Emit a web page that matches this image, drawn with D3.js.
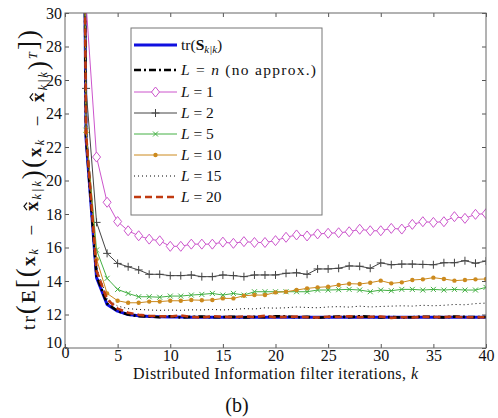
<!DOCTYPE html>
<html>
<head>
<meta charset="utf-8">
<script src="https://cdn.jsdelivr.net/npm/d3@7"></script>
<style>
	body { margin: 0; background: #fff; }
	svg text { font-family: "Liberation Serif", "DejaVu Serif", serif; fill: #111; }
</style>
</head>
<body>
<svg id="chart" width="498" height="418"></svg>
<script>
// iterations k = 1..40
var iters = d3.range(1, 41);

// series values (k = 1 is far above the axis, so it is clipped)
var trS  = [100, 22.5, 14.2, 12.6, 12.2, 12.0, 11.92, 11.88, 11.86, 11.85, 11.85, 11.84, 11.84, 11.84, 11.84, 11.84, 11.83, 11.83, 11.83, 11.83,
	11.83, 11.83, 11.83, 11.83, 11.83, 11.83, 11.83, 11.83, 11.83, 11.83, 11.83, 11.83, 11.83, 11.83, 11.83, 11.83, 11.83, 11.83, 11.83, 11.83];
var Ln   = [100, 22.6, 14.3, 12.65, 12.2, 12.0, 11.9, 11.88, 11.84, 11.9, 11.82, 11.86, 11.88, 11.83, 11.85, 11.87, 11.82, 11.86, 11.84, 11.89,
	11.9, 11.83, 11.86, 11.8, 11.85, 11.88, 11.84, 11.9, 11.86, 11.83, 11.85, 11.82, 11.84, 11.87, 11.85, 11.83, 11.88, 11.86, 11.84, 11.85];
var L1   = [100, 30.6, 21.4, 18.7, 17.55, 17.0, 16.7, 16.5, 16.4, 16.07, 16.07, 16.2, 16.2, 16.2, 16.32, 16.25, 16.35, 16.3, 16.3, 16.41,
	16.61, 16.75, 16.69, 16.81, 16.85, 16.88, 16.94, 17.09, 17.0, 17.0, 17.14, 17.1, 17.38, 17.54, 17.5, 17.54, 17.84, 17.74, 17.98, 18.02];
var L2   = [110, 25.5, 17.5, 15.65, 15.05, 14.85, 14.66, 14.4, 14.4, 14.32, 14.32, 14.36, 14.26, 14.26, 14.36, 14.32, 14.26, 14.36, 14.36, 14.36,
	14.46, 14.49, 14.4, 14.72, 14.72, 14.76, 14.9, 14.88, 14.76, 15.08, 14.97, 15.01, 15.01, 14.99, 14.97, 15.09, 15.09, 15.21, 15.06, 15.19];
var L5   = [100, 23.0, 15.85, 14.16, 13.5, 13.26, 13.06, 13.06, 13.03, 13.1, 13.1, 13.16, 13.2, 13.26, 13.16, 13.26, 13.16, 13.36, 13.36, 13.36,
	13.36, 13.36, 13.36, 13.46, 13.46, 13.48, 13.5, 13.46, 13.36, 13.46, 13.42, 13.5, 13.5, 13.46, 13.5, 13.46, 13.5, 13.46, 13.46, 13.62];
var L10  = [100, 22.9, 15.3, 13.26, 12.82, 12.7, 12.7, 12.77, 12.77, 12.82, 12.82, 12.87, 12.85, 12.87, 12.96, 12.96, 13.12, 13.16, 13.16, 13.32,
	13.36, 13.46, 13.56, 13.62, 13.66, 13.76, 13.84, 13.82, 13.9, 14.02, 13.86, 13.92, 14.06, 14.1, 14.2, 14.12, 14.02, 14.06, 14.1, 14.12];
var L15  = [100, 22.7, 14.8, 12.95, 12.5, 12.35, 12.3, 12.27, 12.25, 12.27, 12.25, 12.28, 12.27, 12.3, 12.27, 12.3, 12.35, 12.33, 12.4, 12.38,
	12.4, 12.45, 12.42, 12.4, 12.45, 12.47, 12.44, 12.5, 12.45, 12.48, 12.5, 12.52, 12.5, 12.55, 12.52, 12.55, 12.6, 12.58, 12.65, 12.68];
var L20  = [100, 22.8, 14.6, 12.9, 12.35, 12.1, 11.98, 11.92, 11.9, 11.88, 11.95, 11.85, 11.82, 11.9, 11.86, 11.84, 11.88, 11.85, 11.92, 11.83,
	11.86, 11.88, 11.84, 11.82, 11.87, 11.85, 11.9, 11.84, 11.86, 11.88, 11.8, 11.84, 11.82, 11.86, 11.85, 11.84, 11.87, 11.83, 11.84, 11.83];

var xTicks = [0, 5, 10, 15, 20, 25, 30, 35, 40];
var yTicks = [10, 12, 14, 16, 18, 20, 22, 24, 26, 28, 30];

var series = [
	{ key: 'trS', values: trS, color: '#1010e0', width: 3, dash: null, marker: null },
	{ key: 'Ln', values: Ln, color: '#000', width: 2.6, dash: '7,3,2,3', marker: null },
	{ key: 'L1', values: L1, color: '#cc55cc', width: 1, dash: null, marker: 'diamond' },
	{ key: 'L2', values: L2, color: '#444', width: 1, dash: null, marker: 'plus' },
	{ key: 'L5', values: L5, color: '#44b044', width: 1, dash: null, marker: 'cross' },
	{ key: 'L10', values: L10, color: '#cc8a1e', width: 1, dash: null, marker: 'dot' },
	{ key: 'L15', values: L15, color: '#000', width: 1, dash: '1,3', marker: null },
	{ key: 'L20', values: L20, color: '#c03a10', width: 2.6, dash: '7,4', marker: null }
];
var lNumbers = { L1: '1', L2: '2', L5: '5', L10: '10', L15: '15', L20: '20' };

var svg = d3.select('#chart');
// plot box (note: "top" is reserved on window, so use px* names)
var pxLeft = 65, pxRight = 486, pxTop = 13, pxBottom = 348;

var x = d3.scaleLinear().domain([0, 40]).range([pxLeft, pxRight]);
var y = d3.scaleLinear().domain([10, 30]).range([pxBottom, pxTop]);

svg.append('defs').append('clipPath').attr('id', 'plotclip')
	.append('rect').attr('x', pxLeft).attr('y', pxTop).attr('width', pxRight - pxLeft).attr('height', pxBottom - pxTop);

// axes, ticks inward on all four sides
function styleAxis(g) {
	g.select('.domain').remove();
	g.selectAll('.tick line').attr('stroke', '#555');
	g.selectAll('.tick text').attr('fill', '#222').style('font-size', '16px');
}

svg.append('g').attr('transform', `translate(0,${pxBottom})`)
	.call(d3.axisBottom(x).tickValues(xTicks).tickSize(-4).tickPadding(2).tickFormat(d3.format('d')))
	.call(styleAxis)
	.call(g => g.selectAll('.tick text').attr('dy', d => d === 0 ? '0.5em' : '0.71em'));

svg.append('g').attr('transform', `translate(0,${pxTop})`)
	.call(d3.axisTop(x).tickValues(xTicks).tickSize(-4).tickFormat(''))
	.call(styleAxis);

svg.append('g').attr('transform', `translate(${pxLeft},0)`)
	.call(d3.axisLeft(y).tickValues(yTicks).tickSize(-4).tickPadding(3).tickFormat(d3.format('d')))
	.call(styleAxis)
	.call(g => g.selectAll('.tick text').attr('dy', d => d === 10 ? '-0.05em' : '0.32em'));

svg.append('g').attr('transform', `translate(${pxRight},0)`)
	.call(d3.axisRight(y).tickValues(yTicks).tickSize(-4).tickFormat(''))
	.call(styleAxis);

// curves
var plot = svg.append('g').attr('clip-path', 'url(#plotclip)');
var line = d3.line().x((d, i) => x(iters[i])).y(d => y(d));

function markerPath(type) {
	if (type === 'diamond') return 'M0,-5L4,0L0,5L-4,0Z';
	if (type === 'plus') return 'M-4,0H4M0,-4V4';
	if (type === 'cross') return 'M-2.5,-2.5L2.5,2.5M-2.5,2.5L2.5,-2.5';
	return null;
}

function drawMarker(sel, type, color) {
	if (type === 'dot')
		sel.append('circle').attr('r', 2.2).attr('fill', color).attr('stroke', 'none');
	else
		sel.append('path').attr('d', markerPath(type))
			.attr('fill', type === 'diamond' ? '#fff' : 'none')
			.attr('stroke', color).attr('stroke-width', 1);
}

series.forEach(function(s) {
	plot.append('path')
		.datum(s.values)
		.attr('d', line)
		.attr('fill', 'none')
		.attr('stroke', s.color)
		.attr('stroke-width', s.width)
		.attr('stroke-dasharray', s.dash)
		.attr('stroke-linejoin', 'round');

	if (s.marker) {
		plot.append('g').selectAll('g').data(s.values).join('g')
			.attr('transform', (d, i) => `translate(${x(iters[i])},${y(d)})`)
			.each(function() { drawMarker(d3.select(this), s.marker, s.color); });
	}
});

svg.append('rect').attr('x', pxLeft).attr('y', pxTop).attr('width', pxRight - pxLeft).attr('height', pxBottom - pxTop)
	.attr('fill', 'none').attr('stroke', '#666').attr('stroke-width', 1);

// legend
var lg = svg.append('g');
lg.append('rect').attr('x', 131).attr('y', 28).attr('width', 191).attr('height', 187)
	.attr('fill', '#fff').attr('stroke', '#777').attr('stroke-width', 1);

var rowY = [45, 70, 92, 113, 134, 155, 176, 197];
series.forEach(function(s, i) {
	var ry = rowY[i];
	lg.append('line').attr('x1', 134).attr('x2', 177).attr('y1', ry).attr('y2', ry)
		.attr('stroke', s.color).attr('stroke-width', s.width).attr('stroke-dasharray', s.dash);
	if (s.marker)
		drawMarker(lg.append('g').attr('transform', `translate(155.5,${ry})`), s.marker, s.color);

	var t = lg.append('text').attr('x', 181).attr('y', ry + 5).style('font-size', '15.5px');
	if (s.key === 'trS') {
		t.append('tspan').text('tr(');
		t.append('tspan').attr('font-weight', 'bold').text('S');
		t.append('tspan').attr('font-style', 'italic').attr('dy', 3).style('font-size', '11px').text('k|k');
		t.append('tspan').attr('dy', -3).text(')');
	} else if (s.key === 'Ln') {
		t.attr('textLength', 135).attr('lengthAdjust', 'spacing');
		t.append('tspan').attr('font-style', 'italic').text('L');
		t.append('tspan').text(' = ');
		t.append('tspan').attr('font-style', 'italic').text('n');
		t.append('tspan').text(' (no approx.)');
	} else {
		t.append('tspan').attr('font-style', 'italic').text('L');
		t.append('tspan').text(' = ' + lNumbers[s.key]);
	}
});

// x label and caption
svg.append('text').attr('x', 275.5).attr('y', 379).attr('text-anchor', 'middle')
	.attr('textLength', 285).attr('lengthAdjust', 'spacing')
	.style('font-size', '16px')
	.call(t => {
		t.append('tspan').text('Distributed Information filter iterations, ');
		t.append('tspan').attr('font-style', 'italic').text('k');
	});

svg.append('text').attr('x', 237).attr('y', 412).attr('text-anchor', 'middle')
	.style('font-size', '20px').text('(b)');

// y label, built from pieces so the delimiters can be larger
var ylg = svg.append('g').attr('transform', 'translate(35,180) rotate(-90)');
var yl = ylg.append('text').attr('text-anchor', 'middle')
	.attr('textLength', 300).attr('lengthAdjust', 'spacing')
	.style('font-size', '19px');
var nChars = 0, hatAt = [];
function piece(txt) { nChars += txt.length; return yl.append('tspan').text(txt); }
function big(txt) { piece(txt).style('font-size', '27px'); }
function bold(txt) { piece(txt).attr('font-weight', 'bold'); }
function sub(txt) {
	piece(txt).attr('font-style', 'italic').style('font-size', '12px').attr('dy', 3);
	yl.append('tspan').attr('dy', -3).text('');
}
function hatx() { hatAt.push(nChars); bold('x'); }
var gap = '\u2002\u2212\u2002';
piece('tr');
big('(');
bold('E');
big('[');
big('(');
bold('x');
sub('k');
piece(gap);
hatx();
sub('k|k');
big(')');
big('(');
bold('x');
sub('k');
piece(gap);
hatx();
sub('k|k');
big(')');
piece('T').attr('font-style', 'italic').style('font-size', '12px').attr('dy', -10);
yl.append('tspan').attr('dy', 10).text('');
big(']');
big(')');

// wide hats over the two estimate symbols, placed from the laid-out glyphs
hatAt.forEach(function(ci) {
	var p0 = yl.node().getStartPositionOfChar(ci),
		p1 = yl.node().getEndPositionOfChar(ci);
	ylg.append('path')
		.attr('d', `M${p0.x + 1},${p0.y - 11}L${(p0.x + p1.x) / 2},${p0.y - 14}L${p1.x - 1},${p0.y - 11}`)
		.attr('fill', 'none').attr('stroke', '#111').attr('stroke-width', 1.2);
});
</script>
</body>
</html>
